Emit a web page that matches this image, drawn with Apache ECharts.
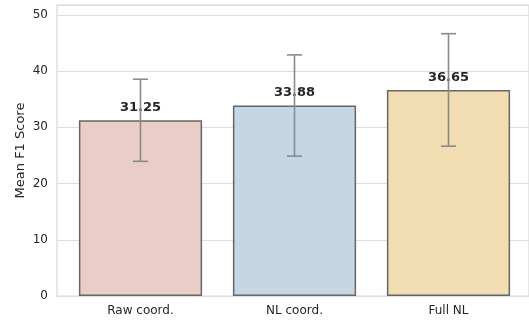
<!DOCTYPE html>
<html>
<head>
<meta charset="utf-8">
<script src="https://cdn.jsdelivr.net/npm/echarts@6/dist/echarts.min.js"></script>
<style>
html,body{margin:0;padding:0;background:#fff;}
#chart{width:529px;height:323px;}
</style>
</head>
<body>
<div id="chart"></div>
<script>
var categories = ['Raw coord.', 'NL coord.', 'Full NL'];
var means = [31.25, 33.88, 36.65];
var errLow = [23.95, 24.88, 26.65];
var errHigh = [38.55, 42.88, 46.65];
var barColors = ['#eacdc6', '#c5d6e5', '#f2ddb2'];
var yTicks = [0, 10, 20, 30, 40, 50];

var FONT = 'DejaVu Sans';
var chart = echarts.init(document.getElementById('chart'), null, {renderer: 'canvas'});

var errData = categories.map(function (c, i) { return [i, errLow[i], errHigh[i]]; });

chart.setOption({
  animation: false,
  backgroundColor: '#ffffff',
  grid: [
    {left: 57, right: -4, top: 5, bottom: 27, show: true, borderColor: '#d9d9d9', borderWidth: 1.25, backgroundColor: 'transparent'},
    {left: 63.5, right: 3.5, top: 5, bottom: 27}
  ],
  xAxis: [
    {gridIndex: 0, type: 'category', data: categories, show: false},
    {gridIndex: 1, type: 'category', data: categories,
      axisLine: {show: false}, axisTick: {show: false},
      axisLabel: {color: '#262626', fontFamily: FONT, fontSize: 12, margin: 9}}
  ],
  yAxis: [
    {gridIndex: 0, type: 'value', min: 0, max: 51.75, interval: 10,
      name: 'Mean F1 Score', nameLocation: 'middle', nameGap: 30, nameRotate: 90, nameMoveOverlap: false,
      nameTextStyle: {color: '#262626', fontFamily: FONT, fontSize: 13},
      axisLine: {show: false}, axisTick: {show: false},
      axisLabel: {color: '#262626', fontFamily: FONT, fontSize: 12, margin: 9, showMaxLabel: false,
        formatter: function (v) { return yTicks.indexOf(v) >= 0 ? String(v) : ''; }},
      splitLine: {show: true, lineStyle: {color: '#dcdcdc', width: 1.1}}},
    {gridIndex: 1, type: 'value', min: 0, max: 51.75, interval: 10, show: false, splitLine: {show: false}}
  ],
  series: [
    {
      type: 'bar', xAxisIndex: 1, yAxisIndex: 1, barWidth: '80%', z: 2,
      data: means.map(function (v, i) {
        return {value: v, itemStyle: {color: barColors[i], borderColor: '#666666', borderWidth: 1.5}};
      }),
      label: {show: true, position: 'top', distance: 6, color: '#262626', fontFamily: FONT,
        fontWeight: 'bold', fontSize: 13, formatter: function (p) { return p.value.toFixed(2); }}
    },
    {
      type: 'custom', xAxisIndex: 1, yAxisIndex: 1, z: 5, data: errData,
      renderItem: function (params, api) {
        var x = api.value(0);
        var lo = api.coord([x, api.value(1)]);
        var hi = api.coord([x, api.value(2)]);
        var hw = 7.5;
        var st = {stroke: '#8a8a8a', lineWidth: 1.6};
        return {type: 'group', children: [
          {type: 'line', shape: {x1: lo[0], y1: lo[1], x2: hi[0], y2: hi[1]}, style: st},
          {type: 'line', shape: {x1: lo[0] - hw, y1: lo[1], x2: lo[0] + hw, y2: lo[1]}, style: st},
          {type: 'line', shape: {x1: hi[0] - hw, y1: hi[1], x2: hi[0] + hw, y2: hi[1]}, style: st}
        ]};
      }
    }
  ]
});
</script>
</body>
</html>
